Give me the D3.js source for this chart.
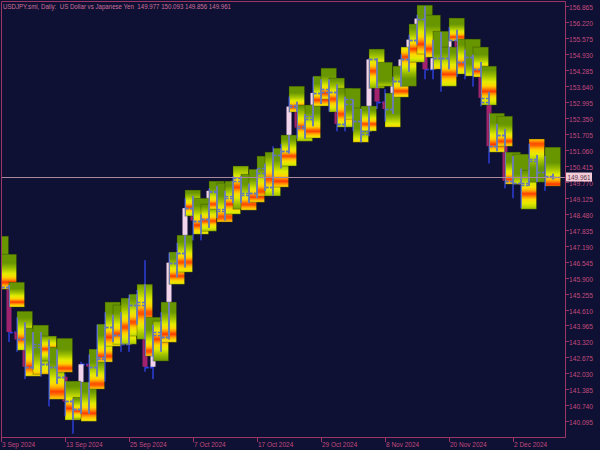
<!DOCTYPE html>
<html><head><meta charset="utf-8">
<script src="https://cdn.jsdelivr.net/npm/d3@7"></script>
<style>html,body{margin:0;padding:0;background:#0e1034;} svg{display:block}</style>
</head><body><svg id="c" width="600" height="450"></svg>
<script>
// ---------- data ----------
const titleText = "USDJPY.sml, Daily:  US Dollar vs Japanese Yen  149.977 150.093 149.856 149.961";
const lastPrice = 149.961;
const lastPriceLabel = "149.961";
const firstBarIndex = -1; // bars -1 .. 69
const opens  = [146.2,146.9,145.5,143.7,143.4,142.3,143.1,142.4,142.3,141.9,140.9,140.6,142.4,142.3,142.6,143.9,143.6,143.2,144.8,144.8,142.3,143.6,143.5,146.5,146.9,148.7,148.2,148.25,149.35,148.6,149.1,149.9,149.3,149.3,150.3,149.55,150.85,151.0,152.85,152.0,152.3,153.35,153.4,153.4,152.1,152.9,152.2,151.8,154.7,153.0,152.7,153.85,154.7,155.5,156.35,154.3,154.75,154.75,155.5,154.6,154.8,154.3,153.0,151.2,151.65,149.8,149.7,149.7,150.6,150.15,149.977];
const highs  = [147.2,147.2,145.6,144.3,144.1,143.7,143.7,143.4,143.0,142.0,141.0,142.5,142.8,144.0,144.5,144.4,144.5,145.2,145.4,146.6,144.0,144.5,146.9,147.3,149.1,149.2,148.45,149.5,149.6,149.4,150.0,150.0,149.7,150.3,150.5,151.2,151.3,153.2,153.0,152.5,154.0,153.9,153.9,153.7,153.2,153.1,152.7,154.75,154.75,153.5,154.0,154.9,155.7,156.5,156.85,155.5,155.8,156.0,155.9,155.1,154.9,154.6,153.4,152.1,151.9,150.8,150.3,151.3,150.85,150.8,150.093];
const lows   = [145.9,145.2,143.3,142.9,141.8,142.2,141.9,140.7,141.6,140.3,139.6,140.4,140.4,141.9,141.7,143.3,142.9,142.9,144.0,142.1,141.8,142.9,143.4,145.9,146.3,147.4,147.4,147.9,148.3,148.2,148.9,148.9,148.9,149.1,149.4,149.2,150.3,150.9,151.5,151.5,152.0,152.9,152.6,151.8,151.8,151.8,151.35,151.6,152.7,152.2,152.5,153.6,154.2,155.3,153.9,153.9,153.4,154.3,154.0,153.9,153.6,152.8,150.5,151.0,149.5,149.1,148.7,149.6,149.75,149.4,149.856];
const closes = [146.9,145.5,143.7,143.4,142.3,143.2,142.4,142.3,141.9,140.9,140.6,142.4,142.3,142.7,143.9,143.6,143.2,144.8,144.9,142.3,143.7,143.5,146.5,146.9,148.7,148.2,148.25,149.4,148.65,149.2,149.8,149.25,149.3,150.1,149.55,150.85,151.0,152.8,151.95,152.4,153.35,153.5,153.4,152.1,153.1,152.2,151.7,154.7,153.0,152.7,153.85,154.7,155.5,156.35,154.3,154.75,154.75,155.5,154.6,154.8,154.3,153.15,151.2,151.65,149.8,149.7,149.65,150.7,150.15,149.98,149.961];
// heat-map boxes (price range of each box and the level where it is hottest)
const boxTop    = [147.57,146.84,145.71,144.54,143.86,143.98,143.54,143.09,143.45,141.72,141.07,141.68,143.01,144.02,144.91,144.79,145.07,145.23,145.63,144.30,144.14,144.91,146.93,147.61,149.43,149.10,148.86,149.79,149.71,149.79,150.40,150.07,150.27,150.80,150.96,151.12,151.65,153.62,152.86,152.86,154.03,154.35,153.95,153.54,153.54,152.74,152.82,155.12,154.59,153.34,154.43,155.20,156.13,156.89,156.49,155.84,155.20,156.37,155.52,155.52,155.20,154.43,152.53,152.41,150.96,150.88,150.23,151.49,null,151.16,null];
const boxBottom = [146.56,145.43,144.71,142.97,141.92,142.00,142.53,140.99,142.08,140.15,140.19,140.10,141.40,142.49,143.13,143.21,143.21,143.54,143.41,142.73,142.53,143.29,145.63,146.12,148.38,147.65,147.77,148.66,148.14,148.46,148.66,148.62,148.94,149.19,149.19,149.55,150.40,152.58,151.40,151.53,152.82,153.10,152.58,151.97,152.29,151.36,151.81,153.54,153.62,151.97,153.18,153.62,154.59,154.92,154.79,154.31,153.62,155.44,154.11,154.03,153.99,152.86,150.96,151.20,149.67,149.67,148.66,149.75,null,149.59,null];
const boxPeak   = [146.03,145.71,144.91,143.41,142.29,141.80,143.01,141.28,142.24,140.63,140.51,140.43,141.60,142.73,143.50,143.62,143.90,144.10,144.46,142.93,143.41,143.62,145.96,146.52,148.74,148.01,148.18,148.86,148.34,148.86,149.55,148.86,149.15,149.39,149.87,149.79,150.80,152.78,151.97,151.81,153.06,153.34,153.10,152.49,151.97,151.16,152.09,154.23,153.30,151.77,153.42,154.79,155.12,155.32,155.12,154.11,154.11,155.60,154.51,153.70,154.23,153.42,151.28,151.40,149.87,149.39,149.27,151.28,null,149.67,null];
const priceTicks = ["156.865","156.220","155.575","154.930","154.285","153.640","152.995","152.350","151.705","151.060","150.415","149.770","149.125","148.480","147.835","147.190","146.545","145.900","145.255","144.610","143.965","143.320","142.675","142.030","141.385","140.740","140.095"];
const dateTickBars = [0,8,16,24,32,40,48,56,64];
const dateLabels = ["3 Sep 2024","13 Sep 2024","25 Sep 2024","7 Oct 2024","17 Oct 2024","29 Oct 2024","8 Nov 2024","20 Nov 2024","2 Dec 2024"];

// ---------- layout ----------
const W = 600, H = 450;
const plot = {left:1, top:1, right:565, bottom:437};
const x = d3.scaleLinear().domain([0, 69]).range([1, 553]);
const y = d3.scaleLinear().domain([140.095, 156.865]).range([421.4, 5.8]);
const axisColor = "#9a3564", textColor = "#c24c7c";
const font = "'Liberation Sans', Arial, sans-serif";

const svg = d3.select("#c");
svg.append("rect").attr("width", W).attr("height", H).attr("fill", "#0e1034");
const defs = svg.append("defs");
defs.append("clipPath").attr("id","plotclip").append("rect")
  .attr("x", plot.left).attr("y", plot.top).attr("width", plot.right-plot.left).attr("height", plot.bottom-plot.top);

const bars = opens.map((o,k)=>({i:k+firstBarIndex, o, h:highs[k], l:lows[k], c:closes[k],
  bt:boxTop[k], bb:boxBottom[k], bp:boxPeak[k]}));
const boxed = bars.filter(d=>d.bt!=null);

const heatColor = d3.scaleLinear().domain([0,0.3,0.55,0.75,0.88,1])
  .range(["#689600","#a0c200","#e2ec00","#ffd600","#ff9000","#ff3200"]).clamp(true);
const boxW = 15.5;
boxed.forEach(d=>{
  const g = defs.append("linearGradient").attr("id","g"+(d.i+1)).attr("x1",0).attr("y1",0).attr("x2",0).attr("y2",1);
  const tp = (d.bt - d.bp)/(d.bt - d.bb);
  for(let s=0;s<=20;s++){
    const t=s/20, h=Math.max(0,1-Math.abs(t-tp)/0.55);
    g.append("stop").attr("offset",t).attr("stop-color",heatColor(h));
  }
});
const bclip = defs.append("clipPath").attr("id","boxclip");
boxed.forEach(d=>bclip.append("rect").attr("x",x(d.i)).attr("y",y(d.bt)).attr("width",boxW).attr("height",y(d.bb)-y(d.bt)));

const P = svg.append("g").attr("clip-path","url(#plotclip)");

function drawWicks(g, wickCol, dashCol){
  g.selectAll(null).data(bars).join("rect")
    .attr("x",d=>x(d.i)-1).attr("width",2)
    .attr("y",d=>y(d.h)).attr("height",d=>Math.max(1,y(d.l)-y(d.h))).attr("fill",wickCol);
  g.selectAll(null).data(bars).join("line")
    .attr("x1",d=>x(d.i)-7).attr("x2",d=>x(d.i)-1).attr("y1",d=>Math.round(y(d.o))+0.5).attr("y2",d=>Math.round(y(d.o))+0.5)
    .attr("stroke",dashCol).attr("stroke-width",1.5).attr("stroke-dasharray","2.5,1.5");
  g.selectAll(null).data(bars).join("line")
    .attr("x1",d=>x(d.i)+1).attr("x2",d=>x(d.i)+8).attr("y1",d=>Math.round(y(d.c))+0.5).attr("y2",d=>Math.round(y(d.c))+0.5)
    .attr("stroke",dashCol).attr("stroke-width",1.5).attr("stroke-dasharray","2.5,1.5");
}
// wicks and open/close ticks
drawWicks(P.append("g"), "#2433ad", "#2c40f5");
// thin candle bodies
P.append("g").selectAll("rect").data(bars).join("rect")
  .attr("x",d=>x(d.i)-2.5).attr("width",5)
  .attr("y",d=>y(Math.max(d.o,d.c))).attr("height",d=>Math.max(1.5,Math.abs(y(d.o)-y(d.c))))
  .attr("fill",d=>d.c>=d.o?"#f2d4ec":"#a3226e");
// heat boxes
P.append("g").selectAll("rect").data(boxed).join("rect")
  .attr("x",d=>x(d.i)).attr("width",boxW)
  .attr("y",d=>y(d.bt)).attr("height",d=>y(d.bb)-y(d.bt))
  .attr("fill",d=>"url(#g"+(d.i+1)+")")
  .attr("stroke","rgba(40,60,0,0.45)").attr("stroke-width",0.8);
// candle lines seen through the boxes
drawWicks(P.append("g").attr("clip-path","url(#boxclip)"), "#6c7eac", "#6378b8");

// current price line
P.append("line").attr("x1",plot.left).attr("x2",plot.right)
  .attr("y1",Math.round(y(lastPrice))+0.5).attr("y2",Math.round(y(lastPrice))+0.5)
  .attr("stroke","#a88a9a").attr("stroke-width",1);

// frame
svg.append("path").attr("d",`M${plot.left+0.5},${plot.bottom+0.5}V${plot.top+0.5}H${plot.right+0.5}V${plot.bottom+0.5}H${plot.left+0.5}`)
  .attr("fill","none").attr("stroke",axisColor).attr("stroke-width",1);

// right price axis
const ya = svg.append("g");
priceTicks.forEach(t=>{
  const yy = Math.round(y(+t))+0.5;
  ya.append("line").attr("x1",plot.right).attr("x2",plot.right+4).attr("y1",yy).attr("y2",yy).attr("stroke",axisColor);
  ya.append("text").attr("x",plot.right+4).attr("y",yy+3).text(t)
    .attr("font-family",font).attr("font-size",7.2).attr("fill",textColor)
    .attr("textLength",24).attr("lengthAdjust","spacingAndGlyphs");
});
// last price label
const ly = Math.round(y(lastPrice));
svg.append("rect").attr("x",plot.right+1).attr("y",ly-4.5).attr("width",26).attr("height",9).attr("fill","#f4ccd8");
svg.append("text").attr("x",plot.right+2.5).attr("y",ly+3).text(lastPriceLabel)
  .attr("font-family",font).attr("font-size",7.2).attr("fill","#5a3448")
  .attr("textLength",23).attr("lengthAdjust","spacingAndGlyphs");

// bottom date axis
const xa = svg.append("g");
dateTickBars.forEach((b,k)=>{
  const xx = Math.round(x(b))+0.5;
  xa.append("line").attr("x1",xx).attr("x2",xx).attr("y1",plot.bottom).attr("y2",plot.bottom+5).attr("stroke",axisColor);
  const tx = xa.append("text").attr("x",xx+0.5).attr("y",plot.bottom+9.5).text(dateLabels[k])
    .attr("font-family",font).attr("font-size",7.2).attr("fill",textColor);
  const n = tx.node().getComputedTextLength();
  tx.attr("textLength",n*0.9).attr("lengthAdjust","spacingAndGlyphs");
});

// title
const tt = svg.append("text").attr("x",3).attr("y",9).text(titleText)
  .attr("font-family",font).attr("font-size",7.2).attr("fill","#d0709a").attr("xml:space","preserve");
tt.attr("textLength",228).attr("lengthAdjust","spacingAndGlyphs");
</script></body></html>
